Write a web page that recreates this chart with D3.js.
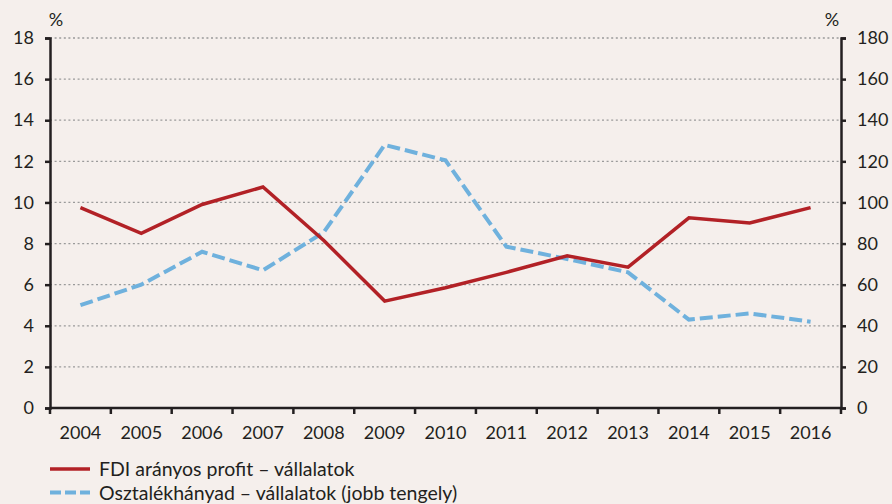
<!DOCTYPE html>
<html>
<head>
<meta charset="utf-8">
<script src="https://cdn.jsdelivr.net/npm/d3@7"></script>
<style>
  body { margin: 0; background: #f5efec; }
  svg { display: block; }
  text { font-family: Lato, "Open Sans", sans-serif; fill: #231f20; }
</style>
</head>
<body>
<div id="chart"></div>
<script>
// chart data
const years = ["2004","2005","2006","2007","2008","2009","2010","2011","2012","2013","2014","2015","2016"];
const fdiProfit = [9.75, 8.5, 9.9, 10.75, 8.15, 5.2, 5.85, 6.6, 7.4, 6.85, 9.25, 9.0, 9.75];
const dividendRatio = [50, 60, 76, 67, 85.5, 128, 120.5, 78.5, 72.5, 66, 43, 46, 42];
const leftTicks = [0, 2, 4, 6, 8, 10, 12, 14, 16, 18];
const rightTicks = [0, 20, 40, 60, 80, 100, 120, 140, 160, 180];
const seriesNames = ["FDI arányos profit – vállalatok", "Osztalékhányad – vállalatok (jobb tengely)"];

const width = 892, height = 504;
const margin = { left: 50, right: 51, top: 38, bottom: 96 };

const svg = d3.select("#chart").append("svg")
    .attr("width", width)
    .attr("height", height);

svg.append("rect").attr("width", width).attr("height", height).attr("fill", "#f5efec");

const x = d3.scaleBand()
    .domain(years)
    .range([margin.left, width - margin.right]);

const yLeft = d3.scaleLinear().domain([0, 18]).range([height - margin.bottom, margin.top]);
const yRight = d3.scaleLinear().domain([0, 180]).range([height - margin.bottom, margin.top]);

// dotted gridlines
svg.append("g")
    .selectAll("line")
    .data(leftTicks.filter(d => d > 0))
    .enter()
    .append("line")
    .attr("x1", margin.left)
    .attr("x2", width - margin.right)
    .attr("y1", d => yLeft(d))
    .attr("y2", d => yLeft(d))
    .attr("stroke", "#9a9a9a")
    .attr("stroke-width", 1.3)
    .attr("stroke-dasharray", "2,2.6");

function styleAxis(g) {
    g.selectAll(".domain").attr("stroke", "#231f20").attr("stroke-width", 2.5);
    g.selectAll(".tick line").attr("stroke", "#231f20").attr("stroke-width", 2.5);
    g.selectAll("text").style("font-size", "18px").attr("fill", "#231f20");
}

// left axis
svg.append("g")
    .attr("transform", "translate(" + margin.left + ",0)")
    .call(d3.axisLeft(yLeft).tickValues(leftTicks).tickSize(5).tickSizeOuter(5).tickPadding(11))
    .call(styleAxis);

// right axis
svg.append("g")
    .attr("transform", "translate(" + (width - margin.right) + ",0)")
    .call(d3.axisRight(yRight).tickValues(rightTicks).tickSize(5).tickSizeOuter(5).tickPadding(11))
    .call(styleAxis);

// x axis with ticks at category boundaries
const xAxisG = svg.append("g")
    .attr("transform", "translate(0," + (height - margin.bottom) + ")");
xAxisG.append("line")
    .attr("x1", margin.left)
    .attr("x2", width - margin.right)
    .attr("stroke", "#231f20")
    .attr("stroke-width", 2.5);
xAxisG.selectAll(".xtick")
    .data(years.concat(["end"]))
    .enter()
    .append("line")
    .attr("x1", (d, i) => margin.left + i * x.step())
    .attr("x2", (d, i) => margin.left + i * x.step())
    .attr("y1", 0)
    .attr("y2", 6)
    .attr("stroke", "#231f20")
    .attr("stroke-width", 2.5);
xAxisG.selectAll(".xlabel")
    .data(years)
    .enter()
    .append("text")
    .attr("x", d => x(d) + x.bandwidth() / 2)
    .attr("y", 31)
    .attr("text-anchor", "middle")
    .style("font-size", "18px")
    .text(d => d);

// % unit labels
svg.append("text").attr("x", 56).attr("y", 26).attr("text-anchor", "middle").style("font-size", "18px").text("%");
svg.append("text").attr("x", 832).attr("y", 26).attr("text-anchor", "middle").style("font-size", "18px").text("%");

const cx = d => x(d) + x.bandwidth() / 2;

// blue dashed line (right axis)
svg.append("path")
    .datum(dividendRatio)
    .attr("fill", "none")
    .attr("stroke", "#6fb1dd")
    .attr("stroke-width", 4)
    .attr("stroke-dasharray", "13,5")
    .attr("d", d3.line().x((d, i) => cx(years[i])).y(d => yRight(d)));

// red line (left axis)
svg.append("path")
    .datum(fdiProfit)
    .attr("fill", "none")
    .attr("stroke", "#b22126")
    .attr("stroke-width", 3.5)
    .attr("d", d3.line().x((d, i) => cx(years[i])).y(d => yLeft(d)));

// legend
const legend = svg.append("g");
const legendStyles = [
    { color: "#b22126", dash: null, width: 3.5 },
    { color: "#6fb1dd", dash: "11,4", width: 4 }
];
seriesNames.forEach((name, i) => {
    const ly = 469 + i * 23.5;
    legend.append("line")
        .attr("x1", 50).attr("x2", 90)
        .attr("y1", ly).attr("y2", ly)
        .attr("stroke", legendStyles[i].color)
        .attr("stroke-width", legendStyles[i].width)
        .attr("stroke-dasharray", legendStyles[i].dash);
    legend.append("text")
        .attr("x", 99).attr("y", ly + 7)
        .style("font-size", "19.5px")
        .text(name);
});
</script>
</body>
</html>
